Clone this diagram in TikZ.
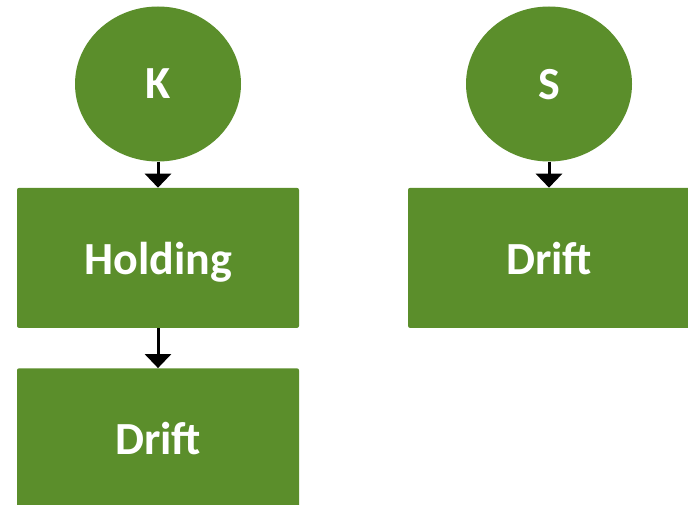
\documentclass[tikz,border=0pt]{standalone}
\usepackage{fontspec}
\setmainfont{Carlito}
\usetikzlibrary{
  arrows.meta,
  positioning,
  shapes.geometric
}
\definecolor{leafgreen}{RGB}{91,142,43}

\begin{document}
\begin{tikzpicture}[
  x=1pt, y=1pt,
  circ/.style={ellipse, fill=leafgreen, minimum width=166pt, minimum height=155pt,
               inner sep=0pt, text=white, text depth=0pt, font=\fontsize{46}{50}\selectfont\bfseries},
  block/.style={rectangle, rounded corners=2pt, fill=leafgreen, minimum width=282pt,
                minimum height=140pt, text=white, text depth=0pt, font=\fontsize{46}{50}\selectfont\bfseries},
  arr/.style={-{Triangle[length=14pt, width=26pt]}, line width=3pt},
  node distance=26pt
]
\useasboundingbox (0,0) rectangle (688,-505);

\node[circ] (k) at (158,-84) {K};
\node[block, below=of k] (hold) {Holding};
\node[block, below=40pt of hold] (kdrift) {Drift};

\node[circ] (s) at (549,-84) {S};
\node[block, below=of s] (sdrift) {Drift};

\draw[arr] (k) -- (hold);
\draw[arr] (hold) -- (kdrift);
\draw[arr] (s) -- (sdrift);

\end{tikzpicture}
\end{document}
